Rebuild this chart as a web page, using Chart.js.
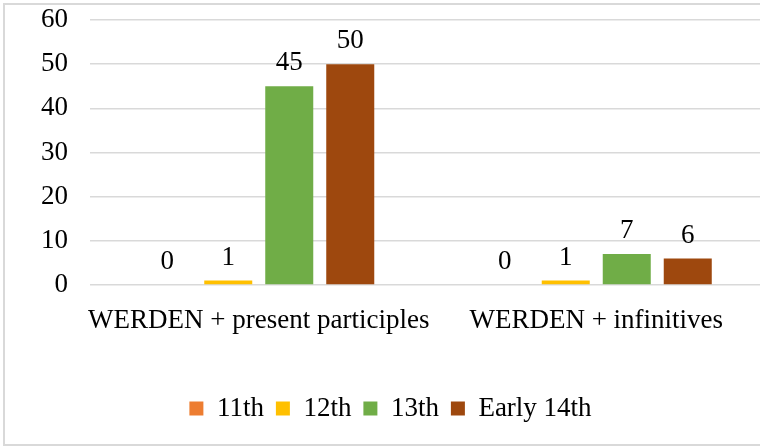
<!DOCTYPE html>
<html lang="en">
<head>
    <meta charset="UTF-8">
    <title>WERDEN constructions by century</title>
    <style>
        html, body { margin: 0; padding: 0; overflow: hidden; background: #fff; }
        .frame {
            position: absolute; left: 3px; top: 3px; width: 900px; height: 443px;
            box-sizing: border-box; border: 2px solid #d9d9d9;
        }
        .wrap { position: absolute; left: 0; top: 0; width: 770px; height: 447px; }
    </style>
</head>
<body>
<div class="frame"></div>
<div class="wrap">
    <canvas id="werden" width="770" height="447"></canvas>
</div>

<script src="https://cdn.jsdelivr.net/npm/chart.js@4.4.0/dist/chart.umd.min.js"></script>
<script>
const categories = ["WERDEN + present participles", "WERDEN + infinitives"];
const seriesNames = ["11th", "12th", "13th", "Early 14th"];
const values11th = [0, 0];
const values12th = [1, 1];
const values13th = [45, 7];
const valuesEarly14th = [50, 6];
const yTicks = [0, 10, 20, 30, 40, 50, 60];

const colors = ["#ed7d31", "#ffc000", "#70ad47", "#9e480e"];
const font = "Liberation Serif";
const fontSize = 27;

// value labels above each bar
const valueLabels = {
    id: "valueLabels",
    afterLayout(chart) {
        // nudge the legend a bit to the right, like the original
        chart.legend.left += 8;
        chart.legend.right += 8;
    },
    afterDatasetsDraw(chart) {
        const ctx = chart.ctx;
        ctx.save();
        ctx.font = `${fontSize}px "${font}"`;
        ctx.fillStyle = "#000";
        ctx.textAlign = "center";
        ctx.textBaseline = "alphabetic";
        chart.data.datasets.forEach((ds, i) => {
            chart.getDatasetMeta(i).data.forEach((bar, j) => {
                ctx.fillText(ds.data[j], bar.x, bar.y - 16);
            });
        });
        ctx.restore();
    }
};

const allSeries = [values11th, values12th, values13th, valuesEarly14th];

new Chart("werden", {
    type: "bar",
    data: {
        labels: categories,
        datasets: allSeries.map((data, i) => ({
            label: seriesNames[i],
            data: data,
            backgroundColor: colors[i],
            categoryPercentage: 0.723,
            barPercentage: 0.787,
        })),
    },
    options: {
        responsive: false,
        animation: false,
        devicePixelRatio: 1,
        layout: { padding: { top: 20, right: 5, bottom: 15, left: 0 } },
        plugins: {
            tooltip: { enabled: false },
            legend: {
                position: "bottom",
                labels: {
                    color: "#000",
                    font: { family: font, size: fontSize },
                    boxWidth: 14,
                    boxHeight: 14,
                    padding: 12,
                },
            },
        },
        scales: {
            x: {
                grid: { display: false, drawTicks: false },
                border: { display: false },
                ticks: {
                    color: "#000", font: { family: font, size: fontSize },
                    padding: 20, maxRotation: 0, autoSkip: false,
                },
                afterFit: scale => { scale.height = 98; },
            },
            y: {
                min: 0,
                max: 60,
                grid: { color: "#d9d9d9", lineWidth: 1.5, drawTicks: false },
                border: { display: false },
                afterBuildTicks: scale => { scale.ticks = yTicks.map(v => ({ value: v })); },
                ticks: { color: "#000", font: { family: font, size: fontSize }, padding: 22 },
                afterFit: scale => {
                    scale.width = 90;
                    scale.paddingTop = 0;
                    scale.paddingBottom = 0;
                },
            },
        },
    },
    plugins: [valueLabels],
});
</script>
</body>
</html>
